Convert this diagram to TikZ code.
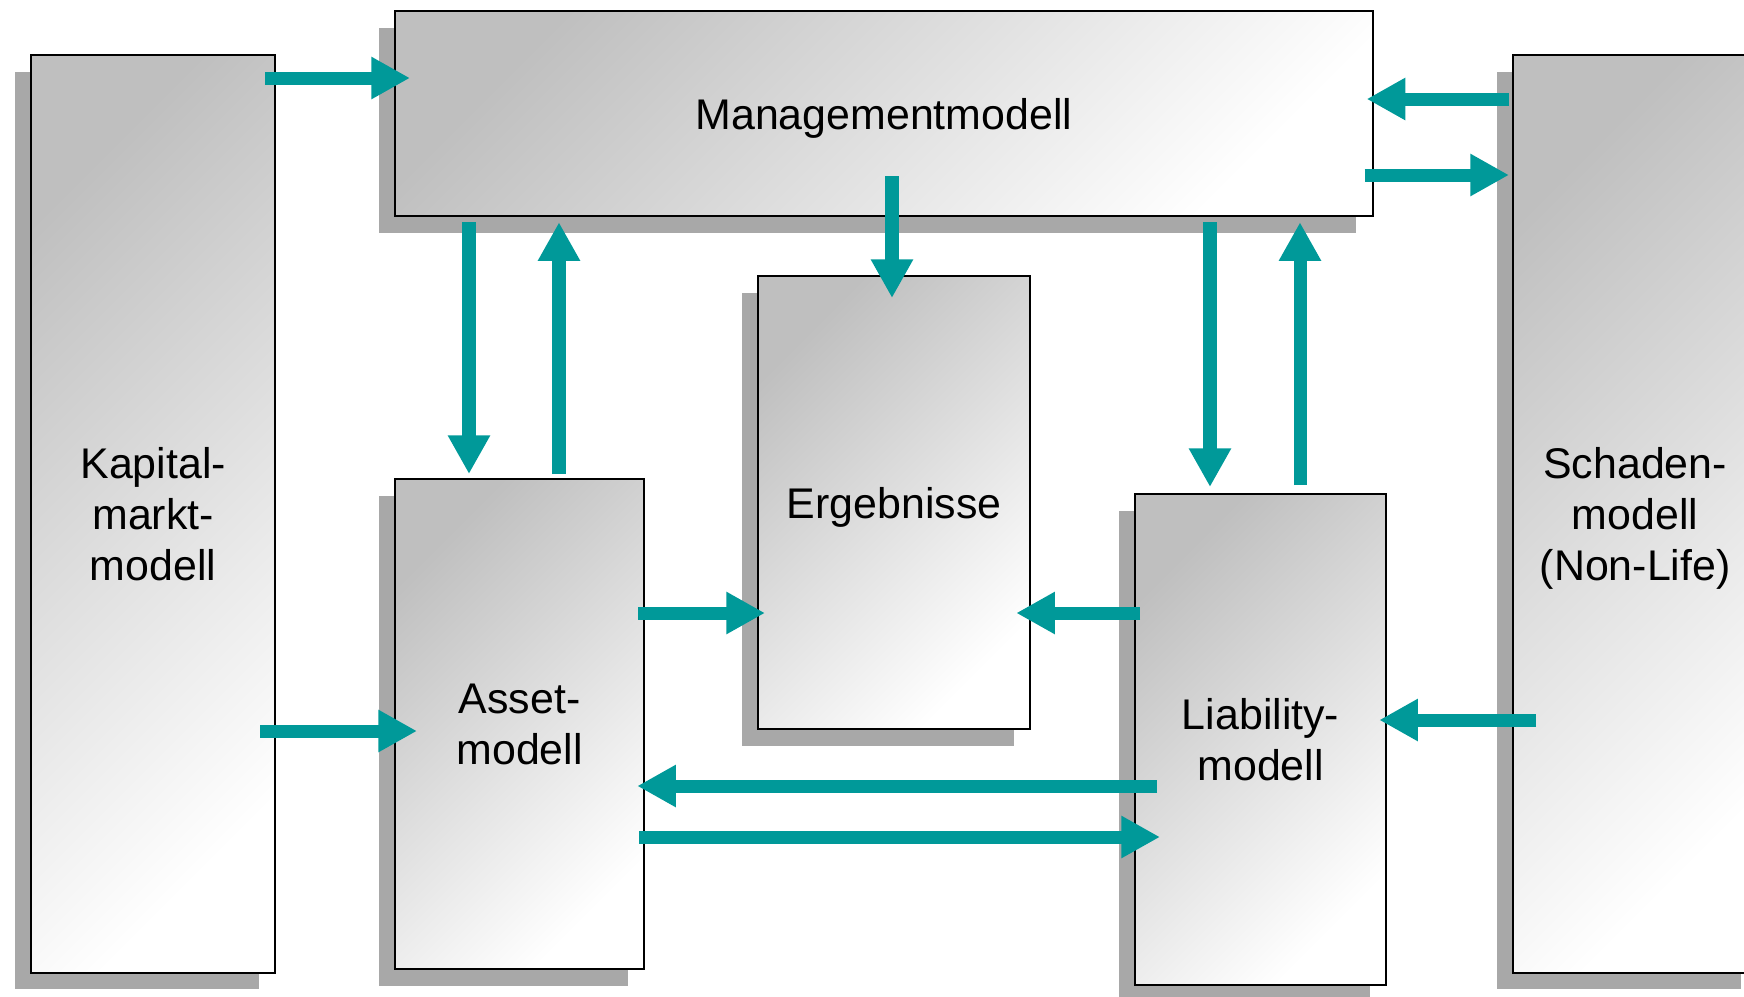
\documentclass[tikz,border=0pt]{standalone}
\usepackage{fontspec}
\setmainfont{Liberation Sans}
\usetikzlibrary{calc}
\usetikzlibrary{arrows, arrows.meta}
\usetikzlibrary{shadows}

\definecolor{flowteal}{RGB}{0,153,153}
\newcommand\modelfont{\fontsize{12.2}{14.5}\selectfont}

\begin{document}
\begin{tikzpicture}[x=0.01cm, y=-0.01cm]

\useasboundingbox (0, 0) rectangle (1744, 996) ;
\clip (0, 0) rectangle (1744, 996) ;

% boxes

\tikzstyle{model box} =
	[draw=black, line width=.6pt, top color=gray!50, bottom color=white, shading angle=45,
	 drop shadow={shadow xshift=-.165cm, shadow yshift=-.165cm, fill=gray!68, opacity=1},
	 inner sep=0pt, anchor=north west, align=center, text depth=0pt, font=\modelfont]

\node [model box, minimum width=2.44cm, minimum height=9.17cm] (kapital) at (30, 54) {Kapital-\\markt-\\modell} ;
\node [model box, minimum width=9.77cm, minimum height=2.05cm] (management) at (394, 10) {Managementmodell} ;
\node [model box, minimum width=2.44cm, minimum height=9.17cm] (schaden) at (1512, 54) {Schaden-\\modell\\(Non-Life)} ;
\node [model box, minimum width=2.49cm, minimum height=4.90cm] (asset) at (394, 478) {Asset-\\modell} ;
\node [model box, minimum width=2.72cm, minimum height=4.53cm] (ergebnisse) at (757, 275) {Ergebnisse} ;
\node [model box, minimum width=2.51cm, minimum height=4.91cm] (liability) at (1134, 493) {Liability-\\modell} ;

% arrows

\tikzstyle{flow} =
	[line width=3.7pt, color=flowteal, -{Triangle[length=11pt, width=11.3pt]}]

% to and from the management model
\draw [flow] ($(kapital.north east) + (-11, 24)$) -- ($(management.north west) + (16, 68)$) ;
\draw [flow] ($(schaden.north west) + (-3, 45)$) -- ($(management.north east) + (-7, 89)$) ;
\draw [flow] ($(management.north east) + (-9, 165)$) -- ($(schaden.north west) + (-3, 121)$) ;
\draw [flow] ($(management.north west) + (498, 166)$) -- ($(ergebnisse.north west) + (135, 23)$) ;
\draw [flow] ($(management.south west) + (75, 5)$) -- ($(asset.north west) + (75, -4)$) ;
\draw [flow] ($(asset.north west) + (165, -4)$) -- ($(management.south west) + (165, 5)$) ;
\draw [flow] ($(management.south west) + (816, 5)$) -- ($(liability.north west) + (76, -6)$) ;
\draw [flow] ($(liability.north west) + (166, -8)$) -- ($(management.south west) + (906, 5)$) ;

% lower part
\draw [flow] ($(kapital.north east) + (-16, 677)$) -- ($(asset.north west) + (23, 253)$) ;
\draw [flow] ($(asset.north east) + (-7, 135)$) -- ($(ergebnisse.north west) + (8, 338)$) ;
\draw [flow] ($(liability.north west) + (6, 120)$) -- ($(ergebnisse.north east) + (-15, 338)$) ;
\draw [flow] ($(schaden.north west) + (24, 666)$) -- ($(liability.north east) + (-8, 227)$) ;
\draw [flow] ($(liability.north west) + (23, 293)$) -- ($(asset.north east) + (-8, 308)$) ;
\draw [flow] ($(asset.north east) + (-6, 359)$) -- ($(liability.north west) + (26, 344)$) ;

\end{tikzpicture}
\end{document}
